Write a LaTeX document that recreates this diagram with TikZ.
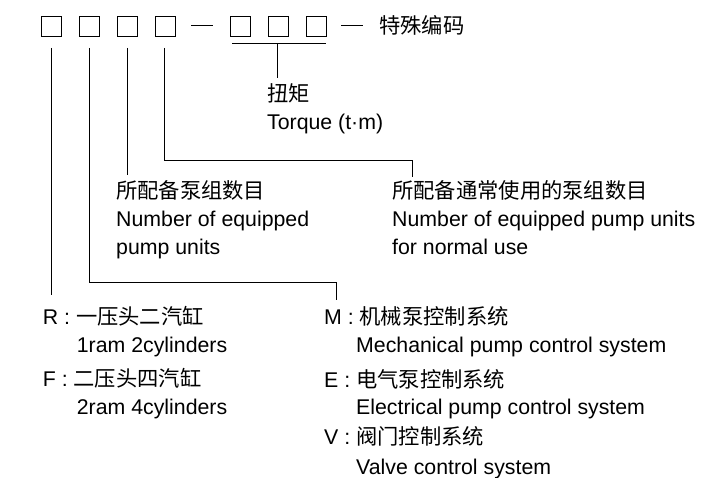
\documentclass[tikz,border=0pt]{standalone}
\usepackage{fontspec}
\setmainfont{Liberation Sans}
\newfontfamily\cjk{Noto Sans CJK SC}
\begin{document}
\begin{tikzpicture}[x=1pt,y=-1pt,
  box/.style={draw, line width=0.9pt, minimum width=20pt, minimum height=20pt, inner sep=0pt, anchor=north west},
  txt/.style={inner sep=0pt, anchor=base west, font=\fontsize{21.3}{25}\selectfont},
  conn/.style={line width=1pt},
  dashline/.style={line width=0.9pt}]
\useasboundingbox (0,0) rectangle (716,478);
% code boxes
\node[box] (b1) at (41,16) {};
\node[box] (b2) at (79,16) {};
\node[box] (b3) at (117,16) {};
\node[box] (b4) at (154.5,16) {};
\node[box] (b5) at (230,16) {};
\node[box] (b6) at (267.5,16) {};
\node[box] (b7) at (305.5,16) {};
\draw[dashline] (191,25.5) -- (212.5,25.5);
\draw[dashline] (341,25.5) -- (362.5,25.5);
\node[txt] (code) at (379,33.5) {\cjk 特殊编码};
% torque
\node[txt] (tq1) at (267,101.5) {\cjk 扭矩};
\node[txt] (tq2) at (267,130) {Torque (t·m)};
% block 1
\node[txt] (n1a) at (116,198.5) {\cjk 所配备泵组数目};
\node[txt] (n1b) at (116,227) {Number of equipped};
\node[txt] (n1c) at (116,255) {pump units};
% block 2
\node[txt] (n2a) at (392,198.5) {\cjk 所配备通常使用的泵组数目};
\node[txt] (n2b) at (392,227) {Number of equipped pump units};
\node[txt] (n2c) at (392,255) {for normal use};
% bottom left
\node[txt] (r1) at (42.7,324.3) {R : {\cjk 一压头二汽缸}};
\node[txt] (r2) at (76.7,352.7) {1ram 2cylinders};
\node[txt] (f1) at (42.7,386.7) {F : {\cjk 二压头四汽缸}};
\node[txt] (f2) at (76.7,415) {2ram 4cylinders};
% bottom right
\node[txt] (m1) at (324,324.3) {M : {\cjk 机械泵控制系统}};
\node[txt] (m2) at (356,352.7) {Mechanical pump control system};
\node[txt] (e1) at (324,387.3) {E : {\cjk 电气泵控制系统}};
\node[txt] (e2) at (356,415) {Electrical pump control system};
\node[txt] (v1) at (324,445) {V : {\cjk 阀门控制系统}};
\node[txt] (v2) at (356,475) {Valve control system};
% connector end points
\coordinate (r1top) at (b1.south |- 0,295);
\coordinate (m1top) at (336,300);
\coordinate (n1top) at (b3.south |- 0,175);
\coordinate (n2top) at (412,177);
\coordinate (tqtop) at (b6.south |- 0,78);
% connectors
\draw[conn] (b1.south) ++(0,11) -- (r1top);
\draw[conn] (b2.south) ++(0,11) |- (m1top |- 0,283) -- (m1top);
\draw[conn] (b3.south) ++(0,11) -- (n1top);
\draw[conn] (b4.south) ++(0,11) |- (n2top |- 0,160.7) -- (n2top);
\draw[conn] (b5.south west) ++(2,7) -- ([shift={(0,7)}]b7.south east);
\draw[conn] (b6.south) ++(0,7) -- (tqtop);
\end{tikzpicture}
\end{document}
